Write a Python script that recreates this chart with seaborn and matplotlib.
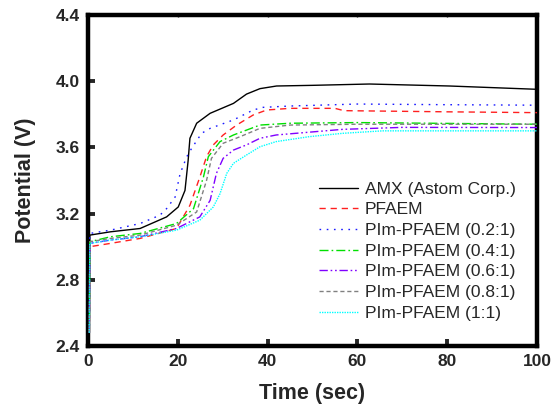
import numpy as np
import pandas as pd
import matplotlib
matplotlib.use("Agg")
import matplotlib.pyplot as plt
import seaborn as sns

# ---- data ----
labels = ["AMX (Astom Corp.)", "PFAEM", "PIm-PFAEM (0.2:1)", "PIm-PFAEM (0.4:1)",
          "PIm-PFAEM (0.6:1)", "PIm-PFAEM (0.8:1)", "PIm-PFAEM (1:1)"]

t_amx = [0.3, 0.4, 5, 11.6, 17.5, 20.1, 21.6, 22.3, 22.7, 24.2, 27.2, 32.4, 35.3, 38.3, 42, 50, 62.7, 80.5, 100]
v_amx = [2.48, 3.07, 3.09, 3.11, 3.18, 3.24, 3.34, 3.52, 3.655, 3.746, 3.806, 3.866, 3.922, 3.955, 3.971, 3.975, 3.983, 3.971, 3.951]

t_pfaem = [0.3, 0.4, 5, 11.6, 19.7, 22.7, 24.9, 26.4, 27.9, 30.1, 33.1, 36.8, 39.8, 45, 55, 57, 80, 100]
v_pfaem = [2.48, 3.0, 3.02, 3.05, 3.11, 3.25, 3.42, 3.544, 3.615, 3.675, 3.735, 3.796, 3.826, 3.836, 3.836, 3.822, 3.815, 3.81]

t_02 = [0.3, 0.4, 5, 11.6, 16, 17.5, 19.4, 20.5, 22, 23.1, 25.3, 27.2, 32.4, 36.8, 39, 45, 60, 80, 100]
v_02 = [2.48, 3.08, 3.10, 3.14, 3.19, 3.23, 3.30, 3.44, 3.544, 3.595, 3.685, 3.715, 3.766, 3.826, 3.842, 3.85, 3.862, 3.858, 3.855]

t_04 = [0.3, 0.4, 5, 11.6, 19.7, 23.5, 25.7, 26.8, 29.4, 32.4, 38.3, 45, 60, 80, 100]
v_04 = [2.48, 3.03, 3.06, 3.08, 3.14, 3.23, 3.42, 3.544, 3.635, 3.675, 3.735, 3.746, 3.75, 3.745, 3.74]

t_06 = [0.3, 0.4, 5, 11.6, 19.7, 24.9, 27.2, 28.6, 30.1, 32.4, 35.3, 38.3, 41.9, 56.7, 70, 100]
v_06 = [2.48, 3.02, 3.04, 3.06, 3.11, 3.18, 3.28, 3.443, 3.534, 3.584, 3.615, 3.655, 3.675, 3.709, 3.721, 3.72]

t_08 = [0.3, 0.4, 5, 11.6, 19.7, 24.2, 26.4, 27.5, 30.1, 33.9, 38.3, 45, 60, 80, 100]
v_08 = [2.48, 3.03, 3.05, 3.07, 3.13, 3.21, 3.40, 3.534, 3.625, 3.665, 3.715, 3.735, 3.74, 3.74, 3.74]

t_11 = [0.3, 0.4, 5, 11.6, 19.7, 24.9, 27.9, 29.4, 30.9, 32.4, 35.3, 38.3, 41.9, 49.3, 56.7, 65.6, 100]
v_11 = [2.48, 3.02, 3.04, 3.06, 3.10, 3.16, 3.24, 3.32, 3.443, 3.504, 3.554, 3.604, 3.635, 3.665, 3.685, 3.70, 3.70]

x_ticks = [0, 20, 40, 60, 80, 100]
y_ticks = [2.4, 2.8, 3.2, 3.6, 4.0, 4.4]

series_t = [t_amx, t_pfaem, t_02, t_04, t_06, t_08, t_11]
series_v = [v_amx, v_pfaem, v_02, v_04, v_06, v_08, v_11]

frames = []
for lab, tt, vv in zip(labels, series_t, series_v):
    frames.append(pd.DataFrame({"t": tt, "V": vv, "series": lab}))
df = pd.concat(frames, ignore_index=True)

colors = ["#000000", "#ff2020", "#1a1aff", "#00e000", "#8000ff", "#808080", "#00ffff"]
palette = dict(zip(labels, colors))
dashes = {
    labels[0]: "",
    labels[1]: (4.5, 3.5),
    labels[2]: (1.2, 4.0),
    labels[3]: (6.5, 2.2, 1.2, 2.2),
    labels[4]: (6.0, 2.0, 1.2, 2.0, 1.2, 2.0),
    labels[5]: (3.0, 2.0),
    labels[6]: (1.0, 0.8),
}

sns.set_style("ticks")
plt.rcParams["font.family"] = ["Liberation Sans", "DejaVu Sans"]

fig = plt.figure(figsize=(5.52, 4.07), dpi=100)
ax = fig.add_axes([88 / 552, 1 - 346 / 407, (537 - 88) / 552, (346 - 15) / 407])

sns.lineplot(data=df, x="t", y="V", hue="series", style="series",
             hue_order=labels, style_order=labels, palette=palette,
             dashes=dashes, sort=False, estimator=None, linewidth=1.0, ax=ax)
for ln in ax.get_lines():
    ln.set_zorder(3)

ax.set_xlim(0, 100)
ax.set_ylim(2.4, 4.4)
ax.set_xticks(x_ticks)
ax.set_yticks(y_ticks)
ax.set_xticklabels([str(v) for v in x_ticks])
ax.set_yticklabels([f"{v:.1f}" for v in y_ticks])
for lbl in ax.get_xticklabels() + ax.get_yticklabels():
    lbl.set_fontweight("bold")
    lbl.set_fontsize(12.5)

ax.tick_params(axis="both", direction="in", length=5, width=2.8, pad=6,
               top=True, right=True)
for tk in ax.xaxis.get_major_ticks() + ax.yaxis.get_major_ticks():
    tk.tick2line.set_markersize(1.5)
    tk.tick2line.set_markeredgewidth(1.0)
for s in ax.spines.values():
    s.set_linewidth(3.2)
    s.set_color("black")

ax.set_xlabel("Time (sec)", fontsize=15.5, fontweight="bold", labelpad=10)
ax.set_ylabel("Potential (V)", fontsize=15.5, fontweight="bold", labelpad=14)

handles, labs = ax.get_legend_handles_labels()
ax.legend(handles, labs, loc="upper left", bbox_to_anchor=(0.514, 0.497),
          frameon=False, fontsize=12.5, handlelength=2.25, handletextpad=0.4,
          labelspacing=0.32, borderpad=0, borderaxespad=0)

fig.savefig("out.png", dpi=100)
